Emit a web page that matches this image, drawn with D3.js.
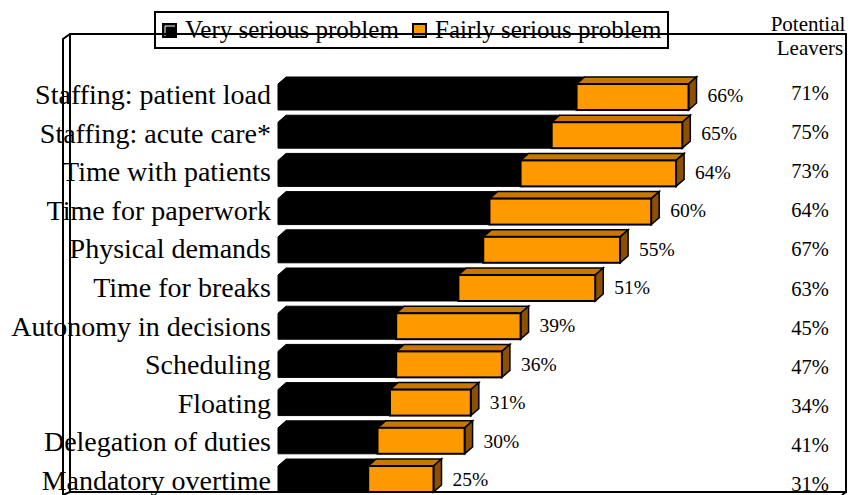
<!DOCTYPE html>
<html>
<head>
<meta charset="utf-8">
<script src="https://cdn.jsdelivr.net/npm/d3@7"></script>
<style>
  html, body { margin: 0; padding: 0; background: #fff; }
  svg { display: block; }
  text { font-family: "Liberation Serif", "Times New Roman", serif; fill: #000; }
</style>
</head>
<body>
<svg id="chart" width="855" height="495"></svg>
<script>
// Problem areas, share rating each as a serious problem
const categories = [
  "Staffing: patient load", "Staffing: acute care*", "Time with patients",
  "Time for paperwork", "Physical demands", "Time for breaks",
  "Autonomy in decisions", "Scheduling", "Floating",
  "Delegation of duties", "Mandatory overtime"
];
const verySerious = [48, 44, 39, 34, 33, 29, 19, 19, 18, 16, 14.5];
const totalSerious = [66, 65, 64, 60, 55, 51, 39, 36, 31, 30, 25];
const potentialLeavers = [71, 75, 73, 64, 67, 63, 45, 47, 34, 41, 31];
const seriesNames = ["Very serious problem", "Fairly serious problem"];

const fmt = v => v + "%";

const svg = d3.select("#chart");

const x = d3.scaleLinear().domain([0, 70]).range([278, 278 + 70 * 6.22]);
const y = d3.scaleBand().domain(categories)
  .range([77.9, 498.1]).paddingInner(0.32).paddingOuter(0.16);
const yLabel = d3.scalePoint().domain(categories).range([104, 490]);
const yValue = d3.scalePoint().domain(categories).range([102, 486]);
const yLeaver = d3.scalePoint().domain(categories).range([100, 491]);

const depthX = 8, depthY = 7;
const colors = { black: "#000", front: "#FF9900", top: "#C87800", side: "#8C5000" };

const rows = categories.map((c, i) => ({
  cat: c, very: verySerious[i], total: totalSerious[i], leave: potentialLeavers[i]
}));

// Legend (drawn first, the chart frame runs across it)
const legend = svg.append("g");
legend.append("rect").attr("x", 155).attr("y", 12).attr("width", 513).attr("height", 36)
  .attr("fill", "#fff").attr("stroke", "#000").attr("stroke-width", 2);
const legendItems = [
  { name: seriesNames[0], fill: colors.black, sx: 163, tx: 185 },
  { name: seriesNames[1], fill: colors.front, sx: 413, tx: 435 }
];
legendItems.forEach(d => {
  legend.append("rect").attr("x", d.sx).attr("y", 24).attr("width", 13).attr("height", 13)
    .attr("fill", d.fill).attr("stroke", "#000").attr("stroke-width", 2);
  if (d.fill === colors.black) {
    legend.append("path")
      .attr("d", `M${d.sx + 2},${24 + 12} V${24 + 2} H${d.sx + 12}`)
      .attr("fill", "none").attr("stroke", "#fff").attr("stroke-width", 1);
  }
  legend.append("text").attr("x", d.tx).attr("y", 38)
    .attr("font-size", 25).text(d.name);
});

// Bars
const bars = svg.append("g").selectAll("g").data(rows).join("g");

bars.each(function(d) {
  const g = d3.select(this);
  const x0 = x(0), xv = x(d.very), xt = x(d.total);
  const yt = y(d.cat), yb = yt + y.bandwidth();
  // very serious segment: front face plus top face, both black
  g.append("path")
    .attr("d", `M${x0},${yb} V${yt} L${x0 + depthX},${yt - depthY} H${xv + depthX} L${xv},${yt} V${yb} Z`)
    .attr("fill", colors.black).attr("stroke", "#000").attr("stroke-width", 1);
  // fairly serious segment: front, top and side faces
  g.append("path")
    .attr("d", `M${xv},${yt} L${xv + depthX},${yt - depthY} H${xt + depthX} L${xt},${yt} Z`)
    .attr("fill", colors.top).attr("stroke", "#000").attr("stroke-width", 1.5);
  g.append("path")
    .attr("d", `M${xt},${yt} L${xt + depthX},${yt - depthY} V${yb - depthY} L${xt},${yb} Z`)
    .attr("fill", colors.side).attr("stroke", "#000").attr("stroke-width", 1.5);
  g.append("rect")
    .attr("x", xv).attr("y", yt).attr("width", xt - xv).attr("height", yb - yt)
    .attr("fill", colors.front).attr("stroke", "#000").attr("stroke-width", 2);
});

// Category labels
svg.append("g").selectAll("text").data(rows).join("text")
  .attr("x", 271).attr("y", d => yLabel(d.cat))
  .attr("text-anchor", "end").attr("font-size", 28)
  .text(d => d.cat);

// Total labels
svg.append("g").selectAll("text").data(rows).join("text")
  .attr("x", d => x(d.total) + 19).attr("y", d => yValue(d.cat))
  .attr("font-size", 19.5)
  .text(d => fmt(d.total));

// Potential leavers column
const leaverHead = svg.append("g");
leaverHead.append("text").attr("x", 808).attr("y", 31).attr("text-anchor", "middle").attr("font-size", 21).text("Potential");
leaverHead.append("text").attr("x", 810).attr("y", 55).attr("text-anchor", "middle").attr("font-size", 21).text("Leavers");
svg.append("g").selectAll("text").data(rows).join("text")
  .attr("x", 810).attr("y", d => yLeaver(d.cat))
  .attr("text-anchor", "middle").attr("font-size", 20.5)
  .text(d => fmt(d.leave));

// Chart frame: back wall, left side wall and floor edge
const frame = svg.append("g").attr("fill", "none").attr("stroke", "#000").attr("stroke-width", 2);
frame.append("path").attr("d", "M70,492 V34 H846 V492 H70");
frame.append("path").attr("d", "M63,495 V39 L70,34");
frame.append("path").attr("d", "M63,495 L70,492");
frame.append("path").attr("d", "M846,492 L842,495");
</script>
</body>
</html>
